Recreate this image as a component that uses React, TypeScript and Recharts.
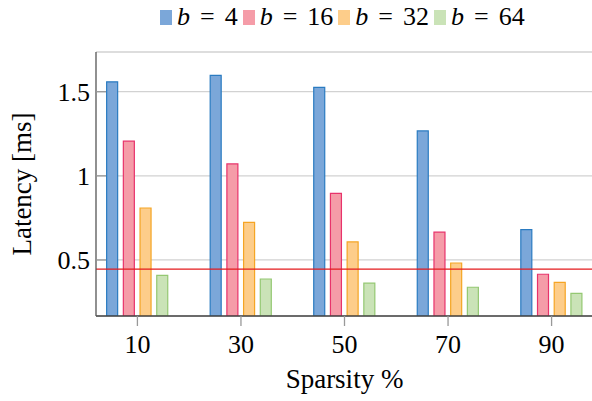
import React from 'react';
import { BarChart, Bar, XAxis, YAxis, CartesianGrid, ReferenceLine, Label } from 'recharts';

const sparsity = [10, 30, 50, 70, 90];
const b4 = [1.559, 1.597, 1.526, 1.267, 0.68];
const b16 = [1.206, 1.071, 0.896, 0.665, 0.415];
const b32 = [0.809, 0.724, 0.607, 0.482, 0.367];
const b64 = [0.409, 0.387, 0.362, 0.338, 0.302];
const yTicks = [0.5, 1, 1.5];
const refValue = 0.445;

const seriesNames = ['4', '16', '32', '64'];
const seriesKeys = ['b4', 'b16', 'b32', 'b64'];
const fills = ['#7ba7d9', '#f59ca8', '#fdcd8a', '#cae3b7'];
const strokes = ['#2a7bc1', '#e8336b', '#f5a524', '#94c872'];

const data = sparsity.map((s, i) => ({ sparsity: s, b4: b4[i], b16: b16[i], b32: b32[i], b64: b64[i] }));

const FONT = "'Liberation Serif', 'DejaVu Serif', serif";

export default function App() {
  return (
    <div style={{ position: 'absolute', left: 0, top: 0, width: 592, height: 401, overflow: 'hidden', background: '#fff', fontFamily: FONT }}>
      <div style={{ position: 'absolute', left: 160, top: 2, display: 'flex', alignItems: 'center', fontSize: 26, color: '#000', whiteSpace: 'nowrap', fontFamily: FONT }}>
        {seriesNames.map((n, i) => (
          <div key={n} style={{ display: 'flex', alignItems: 'center', marginRight: 5 }}>
            <div style={{ width: 12, height: 15, background: fills[i], marginRight: 5 }} />
            <span>
              <i>b</i>
              <span style={{ margin: '0 10px' }}>=</span>
              {n}
            </span>
          </div>
        ))}
      </div>
      <div style={{ position: 'absolute', left: 0, top: 0 }}>
        <BarChart width={600} height={401} data={data} margin={{ top: 52, right: 7, bottom: 0, left: 0 }} barSize={11} barGap={5.7} style={{ fontFamily: FONT }}>
          <CartesianGrid vertical={false} horizontal stroke="#d2d2d2" strokeWidth={1.3} yAxisId="left" />
          <XAxis
            xAxisId={0}
            dataKey="sparsity"
            type="number"
            domain={[2, 98]}
            ticks={sparsity}
            allowDataOverflow
            height={85}
            tickSize={10}
            tickMargin={9}
            axisLine={{ stroke: '#444', strokeWidth: 1.3 }}
            tickLine={{ stroke: '#999', strokeWidth: 1.3 }}
            tick={{ fill: '#000', fontSize: 26, fontFamily: FONT }}
          >
            <Label value="Sparsity %" position="insideBottom" offset={13} fontFamily={FONT} fontSize={27} fill="#000" />
          </XAxis>
          <XAxis
            xAxisId="top"
            orientation="top"
            dataKey="sparsity"
            type="number"
            domain={[2, 98]}
            ticks={sparsity}
            allowDataOverflow
            height={0}
            tickSize={9}
            tick={false}
            axisLine={{ stroke: '#555', strokeWidth: 1.3 }}
            tickLine={{ stroke: '#999', strokeWidth: 1.3 }}
          />
          <YAxis
            yAxisId="left"
            type="number"
            domain={[0.167, 1.736]}
            ticks={yTicks}
            allowDataOverflow
            width={96}
            tickSize={-10}
            tickMargin={16}
            axisLine={{ stroke: '#555', strokeWidth: 1.3 }}
            tickLine={{ stroke: '#999', strokeWidth: 1.3 }}
            tick={{ fill: '#000', fontSize: 26, fontFamily: FONT }}
          >
            <Label value="Latency [ms]" angle={-90} position="insideLeft" offset={21} fontFamily={FONT} fontSize={27} fill="#000" style={{ textAnchor: 'middle' }} />
          </YAxis>
          <YAxis
            yAxisId="right"
            orientation="right"
            type="number"
            domain={[0.167, 1.736]}
            ticks={yTicks}
            allowDataOverflow
            width={0}
            tickSize={-9}
            tick={false}
            axisLine={{ stroke: '#555', strokeWidth: 1.3 }}
            tickLine={{ stroke: '#999', strokeWidth: 1.3 }}
          />
          {seriesKeys.map((k, i) => (
            <Bar key={k} dataKey={k} xAxisId={0} yAxisId="left" fill={fills[i]} stroke={strokes[i]} strokeWidth={1.2} barSize={11} isAnimationActive={false} />
          ))}
          <ReferenceLine y={refValue} yAxisId="left" xAxisId={0} stroke="#e41a1c" strokeWidth={1.2} ifOverflow="extendDomain" />
        </BarChart>
      </div>
    </div>
  );
}
